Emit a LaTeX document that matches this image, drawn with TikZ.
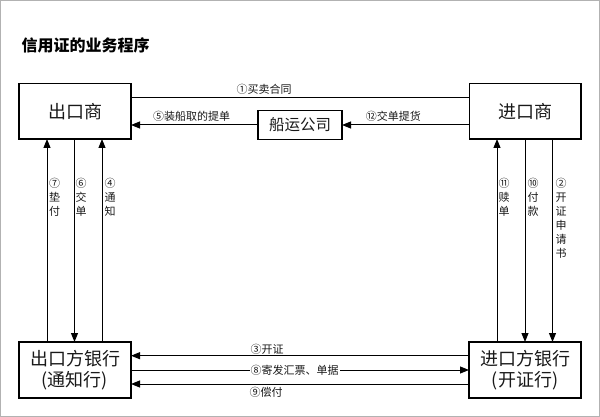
\documentclass[tikz,border=0pt]{standalone}
\usepackage{fontspec}
\setmainfont{Noto Sans CJK SC}
\usetikzlibrary{arrows.meta}
\begin{document}
\begin{tikzpicture}[x=1pt,y=-1pt,
  box/.style={draw=black, line width=1.4pt, inner sep=0pt, outer sep=0pt, align=center, text=black!90},
  bigtxt/.style={font=\fontsize{18}{21.5}\selectfont},
  lab/.style={font=\fontsize{11}{13}\selectfont, inner sep=0pt, text=black!90},
  vlab/.style={font=\fontsize{11}{14}\selectfont, inner sep=0pt, align=center, anchor=north, text=black!90},
  ln/.style={line width=1pt},
  arr/.style={line width=1pt, -{Triangle[length=9pt,width=7pt]}}
]
\useasboundingbox (0,0) rectangle (600,417);
\draw[black!30, line width=1pt] (0.5,0.5) rectangle (599.5,416.5);

\node[anchor=west, font=\fontsize{16}{19}\selectfont\bfseries] (T) at (18,45) {信用证的业务程序};

% boxes
\node[box, bigtxt, minimum width=112pt, minimum height=55.5pt] (A) at (75,111.25) {出口商};
\node[box, bigtxt, minimum width=111.5pt, minimum height=55.5pt] (B) at (525.25,111.25) {进口商};
\node[box, font=\fontsize{15.5}{18}\selectfont, minimum width=84pt, minimum height=29.5pt] (S) at (300,125) {船运公司};
\node[box, bigtxt, minimum width=112pt, minimum height=56pt] (C) at (75,370) {出口方银行\\(通知行)};
\node[box, bigtxt, minimum width=112pt, minimum height=56pt] (D) at (525,370) {进口方银行\\(开证行)};

% top connectors
\draw[ln] (A.east |- 0,97.5) -- (B.west |- 0,97.5);
\node[lab] (L1) at (264,89.3) {①买卖合同};
\draw[arr] (S.west) -- (A.east |- S.west);
\node[lab] (L5) at (191.5,116) {⑤装船取的提单};
\draw[arr] (B.west |- S.east) -- (S.east);
\node[lab] (L12) at (393.3,116) {⑫交单提货};

% left verticals
\draw[arr] (C.north -| 47,0) -- (A.south -| 47,0);
\draw[arr] (A.south -| 74.5,0) -- (C.north -| 74.5,0);
\draw[arr] (C.north -| 102,0) -- (A.south -| 102,0);
\node[vlab] (L7) at (54.5,177.5) {⑦\\垫\\付};
\node[vlab] (L6) at (81,177.5) {⑥\\交\\单};
\node[vlab] (L4) at (110,177.5) {④\\通\\知};

% right verticals
\draw[arr] (D.north -| 497,0) -- (B.south -| 497,0);
\draw[arr] (B.south -| 525,0) -- (D.north -| 525,0);
\draw[arr] (B.south -| 552.5,0) -- (D.north -| 552.5,0);
\node[vlab] (L11) at (504,177.5) {⑪\\赎\\单};
\node[vlab] (L10) at (533,177.5) {⑩\\付\\款};
\node[vlab] (L2) at (561,177.5) {②\\开\\证\\申\\请\\书};

% bottom connectors
\draw[arr] (D.west |- 0,355.7) -- (C.east |- 0,355.7);
\node[lab] (L3) at (267,349) {③开证};
\draw[arr] (C.east |- 0,370) -- (D.west |- 0,370);
\node[lab, fill=white, inner sep=1pt] (L8) at (294.5,370) {⑧寄发汇票、单据};
\draw[arr] (D.west |- 0,384) -- (C.east |- 0,384);
\node[lab] (L9) at (266,392) {⑨偿付};
\end{tikzpicture}
\end{document}
